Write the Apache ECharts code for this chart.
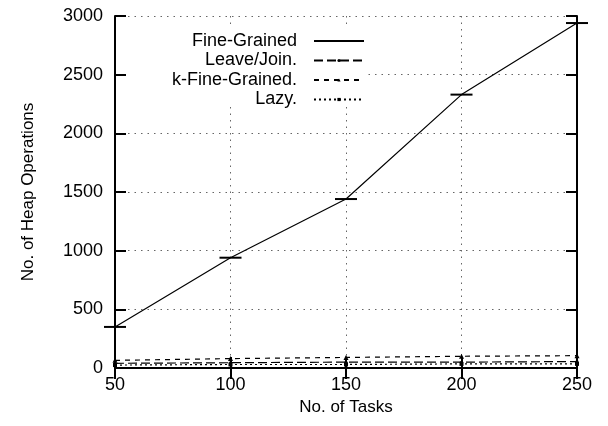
<!DOCTYPE html>
<html>
<head>
<meta charset="utf-8">
<script src="https://cdn.jsdelivr.net/npm/echarts@6/dist/echarts.min.js"></script>
<style>
	html, body { margin: 0; padding: 0; background: #fff; }
	#chart { width: 608px; height: 426px; }
</style>
</head>
<body>
<div id="chart"></div>
<script>
// 数据
const tasks = [50, 100, 150, 200, 250];
const fineGrained = [350, 940, 1440, 2330, 2940];
const leaveJoin = [40, 45, 50, 50, 55];
const kFineGrained = [65, 80, 90, 100, 105];
const lazy = [25, 30, 30, 35, 35];
const seriesNames = ["Fine-Grained", "Leave/Join.", "k-Fine-Grained.", "Lazy."];

function pairs(ys) {
	return tasks.map(function (x, i) { return [x, ys[i]]; });
}

(function () {
	let myChart = echarts.init(document.getElementById('chart'));
	const font = 'Liberation Sans, Arial, sans-serif';
	const frame = { show: true, lineStyle: { color: '#000', width: 2 } };
	const tick = { show: true, inside: true, length: 11, lineStyle: { color: '#000', width: 2 } };
	const grid = { show: true, lineStyle: { color: '#666', width: 1, type: [1.5, 5] } };
	const label = { fontFamily: font, fontSize: 18, color: '#000' };
	const option = {
		animation: false,
		backgroundColor: '#fff',
		grid: { left: 115, right: 31, top: 16, bottom: 58 },
		legend: {
			orient: 'vertical',
			left: 141,
			top: 32,
			padding: 0,
			itemGap: 1.5,
			align: 'right',
			itemWidth: 50,
			itemHeight: 4,
			data: [
				{ name: seriesNames[0], itemStyle: { opacity: 0 } },
				seriesNames[1], seriesNames[2], seriesNames[3]
			],
			textStyle: {
				fontFamily: font, fontSize: 18, color: '#000',
				width: 156, align: 'right', lineHeight: 18, padding: [0, 12, 0, 0]
			}
		},
		graphic: [
			// 图例遮挡网格线
			{ type: 'rect', z: 1, shape: { x: 126, y: 27, width: 240, height: 78 }, style: { fill: '#fff' } }
		],
		xAxis: [
			{
				type: 'value', min: 50, max: 250, interval: 50,
				name: 'No. of Tasks', nameLocation: 'middle', nameGap: 31,
				nameTextStyle: { fontFamily: font, fontSize: 17, color: '#000' },
				axisLine: frame, axisTick: tick, splitLine: grid,
				axisLabel: Object.assign({ margin: 8 }, label)
			},
			{
				type: 'value', min: 50, max: 250, interval: 50, position: 'top',
				axisLine: frame, axisTick: tick, splitLine: { show: false },
				axisLabel: { show: false }
			}
		],
		yAxis: [
			{
				type: 'value', min: 0, max: 3000, interval: 500,
				name: 'No. of Heap Operations', nameLocation: 'middle', nameGap: 78,
				nameTextStyle: { fontFamily: font, fontSize: 17, color: '#000' },
				axisLine: frame, axisTick: tick, splitLine: grid,
				axisLabel: Object.assign({ margin: 12, formatter: function (v) { return String(v); } }, label)
			},
			{
				type: 'value', min: 0, max: 3000, interval: 500, position: 'right',
				axisLine: frame, axisTick: tick, splitLine: { show: false },
				axisLabel: { show: false }
			}
		],
		series: [
			{
				name: seriesNames[0], type: 'line', data: pairs(fineGrained),
				clip: false, z: 5,
				lineStyle: { color: '#000', width: 1.2 },
				symbol: 'rect', symbolSize: [22, 2],
				itemStyle: { color: '#000' }
			},
			{
				name: seriesNames[1], type: 'line', data: pairs(leaveJoin),
				clip: false, z: 4,
				lineStyle: { color: '#000', width: 1.2, type: [9, 4] },
				symbol: 'circle', symbolSize: 3,
				itemStyle: { color: '#000' }
			},
			{
				name: seriesNames[2], type: 'line', data: pairs(kFineGrained),
				clip: false, z: 4,
				lineStyle: { color: '#000', width: 1.2, type: [5, 5] },
				symbol: 'triangle', symbolSize: 5,
				itemStyle: { color: '#000' }
			},
			{
				name: seriesNames[3], type: 'line', data: pairs(lazy),
				clip: false, z: 4,
				lineStyle: { color: '#000', width: 1.2, type: [2, 3] },
				symbol: 'rect', symbolSize: 4,
				itemStyle: { color: '#000' }
			}
		]
	};
	myChart.setOption(option);
	window.addEventListener("resize", function () {
		myChart.resize();
	});
})();
</script>
</body>
</html>
